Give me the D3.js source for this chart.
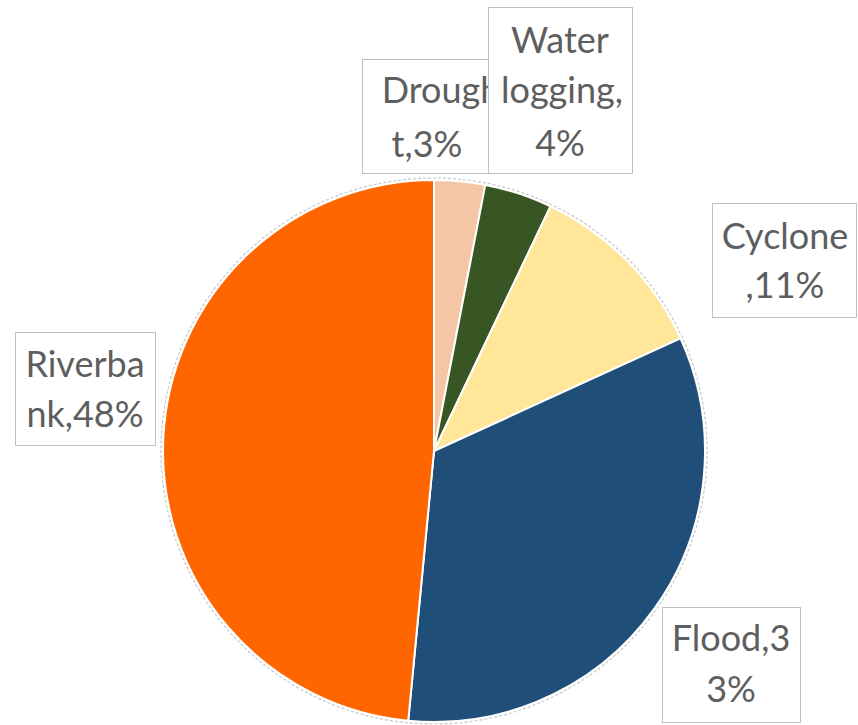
<!DOCTYPE html>
<html>
<head>
<meta charset="utf-8">
<script src="https://cdn.jsdelivr.net/npm/d3@7/dist/d3.min.js"></script>
<style>
  html, body { margin: 0; padding: 0; background: #fff; }
  svg { display: block; }
  .lbl { font-family: Lato, "Open Sans", sans-serif; font-size: 36px; fill: #5e5e5e; }
</style>
</head>
<body>
<svg id="chart" width="858" height="725"></svg>
<script>
// Causes, clockwise from 12 o'clock
const categories = ["Drought", "Water logging", "Cyclone", "Flood", "Riverbank"];
const values = [3, 4, 11, 33, 48];
const colors = ["#F4C6A6", "#375623", "#FFE699", "#1F4E79", "#FF6600"];

// Label boxes: where each callout sits and where its text wraps
const labelLayout = [
  { box: [362, 59, 135, 114], cx: [441, 427], baselines: [103, 157], breaks: [6] },
  { box: [488, 7, 144, 166], cx: [560, 562, 560], baselines: [53, 103, 156], breaks: [5, 14] },
  { box: [712, 203, 144, 114], cx: [785, 785], baselines: [249, 298], breaks: [7] },
  { box: [662, 607, 138, 115], cx: [731, 731], baselines: [651, 702], breaks: [7] },
  { box: [15, 332, 140, 113], cx: [85, 85], baselines: [377, 427], breaks: [7] }
];
// callouts are stacked so later ones cover earlier ones
const drawOrder = [4, 0, 1, 2, 3];

const svg = d3.select("#chart");
const cx = 434, cy = 451, r = 271;

const pie = d3.pie().sort(null).value(d => d.value);
const arc = d3.arc().innerRadius(0).outerRadius(r);
const data = categories.map((c, i) => ({ name: c, value: values[i], color: colors[i] }));
const arcs = pie(data);

const g = svg.append("g").attr("transform", `translate(${cx},${cy})`);

// faint outline around the whole pie
g.append("circle")
  .attr("r", r + 2)
  .attr("fill", "none")
  .attr("stroke", "#c8c8c8")
  .attr("stroke-width", 1.2)
  .attr("stroke-dasharray", "3,2");

g.selectAll("path.slice")
  .data(arcs)
  .join("path")
  .attr("class", "slice")
  .attr("d", arc)
  .attr("fill", d => d.data.color)
  .attr("stroke", "#ffffff")
  .attr("stroke-width", 2)
  .attr("stroke-linejoin", "round");

// label text "Name,NN%" split into the wrapped lines
function labelLines(i) {
  const name = categories[i] === "Water logging" ? "Water logging," : categories[i] + ",";
  const full = name + values[i] + "%";
  const cuts = [0, ...labelLayout[i].breaks, full.length];
  const lines = [];
  for (let k = 0; k < cuts.length - 1; k++) lines.push(full.slice(cuts[k], cuts[k + 1]).trim());
  return lines;
}

const labels = svg.append("g");
drawOrder.forEach(i => {
  const L = labelLayout[i];
  const lg = labels.append("g");
  lg.append("rect")
    .attr("x", L.box[0] + 0.5).attr("y", L.box[1] + 0.5)
    .attr("width", L.box[2]).attr("height", L.box[3])
    .attr("fill", "#ffffff")
    .attr("stroke", "#bfbfbf")
    .attr("stroke-width", 1);
  labelLines(i).forEach((t, k) => {
    lg.append("text")
      .attr("class", "lbl")
      .attr("x", L.cx[k])
      .attr("y", L.baselines[k])
      .attr("text-anchor", "middle")
      .text(t);
  });
});
</script>
</body>
</html>
